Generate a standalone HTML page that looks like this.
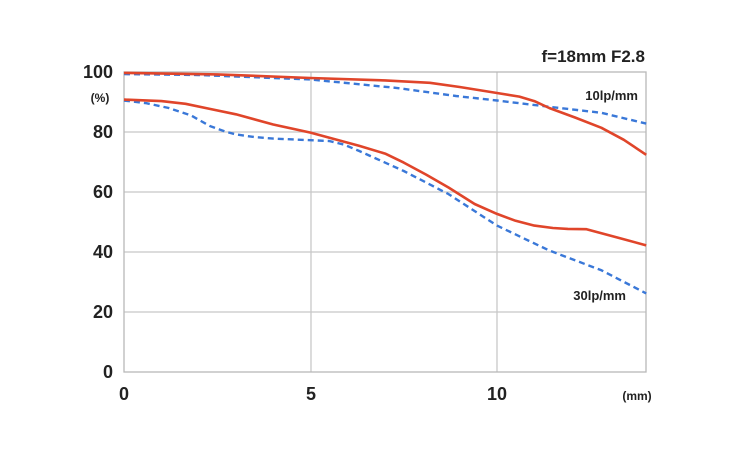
<!DOCTYPE html>
<html><head><style>
body{margin:0;background:#fff;}
svg{display:block;font-family:"Liberation Sans",Arial,sans-serif;font-weight:bold;}
</style></head><body>
<svg width="740" height="476" viewBox="0 0 740 476">
<g stroke="#c8c8c8" stroke-width="1.3" fill="none">
<line x1="124" y1="132" x2="646" y2="132"/>
<line x1="124" y1="192" x2="646" y2="192"/>
<line x1="124" y1="252" x2="646" y2="252"/>
<line x1="124" y1="312" x2="646" y2="312"/>
<line x1="311" y1="72" x2="311" y2="372"/>
<line x1="497" y1="72" x2="497" y2="372"/>
<rect x="124" y="72" width="522" height="300" stroke="#b8b8b8"/>
</g>
<g transform="translate(124,372) scale(37.3,-3)" fill="none" stroke-linejoin="round">
<polyline vector-effect="non-scaling-stroke" stroke="#3a78d8" stroke-width="2.4" stroke-dasharray="6,4" points="0,99.3 2,99 5,97.5 7.3,94.7 8.9,92 10,90.5 11.4,88.4 12.8,86.4 14,82.8"/>
<polyline vector-effect="non-scaling-stroke" stroke="#3a78d8" stroke-width="2.4" stroke-dasharray="6,4" points="0,90.5 0.6,89.6 1.2,88 1.8,85.5 2.3,82 2.7,80.2 3,79.2 3.5,78.3 4,77.8 5.5,77 5.9,75.8 6.3,73.7 7.5,67 8.7,59.3 10,48.8 11.4,40.5 12.8,33.9 14,26.2"/>
<polyline vector-effect="non-scaling-stroke" stroke="#e0452a" stroke-width="2.6" points="0,99.7 2.5,99.2 5,98 7,97.2 8.2,96.4 9,95 10,93 10.6,91.8 11,90.3 11.4,88 12.1,84.8 12.8,81.4 13.4,77.4 14,72.4"/>
<polyline vector-effect="non-scaling-stroke" stroke="#e0452a" stroke-width="2.6" points="0,90.8 1,90.3 1.65,89.4 2.3,87.7 3,85.9 4,82.5 5,79.8 6.3,75.4 7,72.8 7.5,69.8 8.1,65.8 8.7,61.5 9.4,56 10,52.7 10.5,50.4 11,48.8 11.5,48 11.9,47.7 12.4,47.6 12.7,46.6 13.3,44.6 14,42.2"/>
</g>
<g font-size="18" fill="#222" text-anchor="end">
<text x="113" y="78">100</text>
<text x="113" y="138">80</text>
<text x="113" y="198">60</text>
<text x="113" y="258">40</text>
<text x="113" y="318">20</text>
<text x="113" y="378">0</text>
</g>
<text x="100" y="102" font-size="12" fill="#222" text-anchor="middle">(%)</text>
<g font-size="18" fill="#222" text-anchor="middle">
<text x="124" y="400">0</text>
<text x="311" y="400">5</text>
<text x="497" y="400">10</text>
</g>
<text x="637" y="400" font-size="12" fill="#222" text-anchor="middle">(mm)</text>
<text x="645" y="62" font-size="17" fill="#222" text-anchor="end">f=18mm F2.8</text>
<text x="638" y="100" font-size="13" fill="#222" text-anchor="end">10lp/mm</text>
<text x="626" y="300" font-size="13" fill="#222" text-anchor="end">30lp/mm</text>
</svg>
</body></html>
